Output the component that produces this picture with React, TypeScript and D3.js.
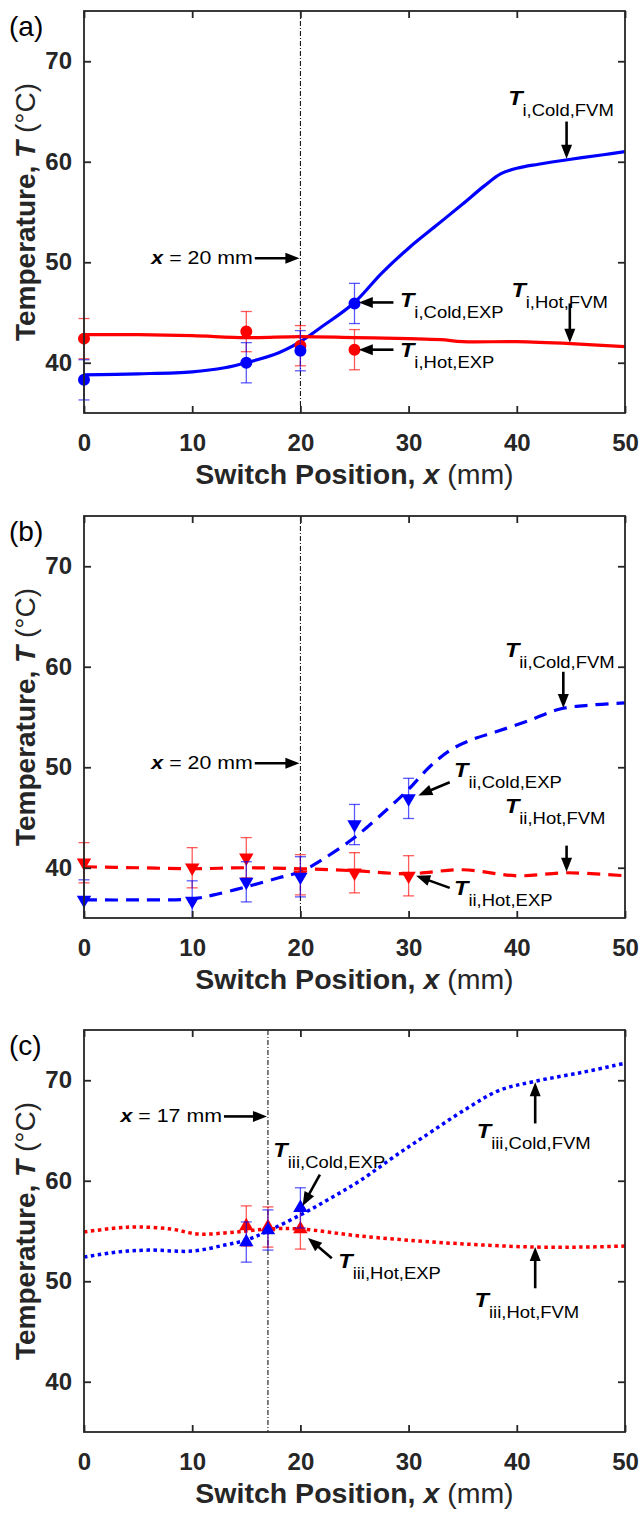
import React, { useEffect, useRef } from "react";
import * as d3 from "d3";

const xTicks = [0, 10, 20, 30, 40, 50];
const yTicks = [40, 50, 60, 70];
const panelNames = ["(a)", "(b)", "(c)"];

// (a) case i, circles, solid lines
const aExpX = [0, 15, 20, 25];
const aColdExp = [38.3, 40.0, 41.2, 45.9];
const aHotExp = [42.4, 43.1, 41.7, 41.3];
const aErr = [2, 2, 2, 2];
const aColdFvmX = [0, 5, 10, 13, 15, 18, 20, 22, 25, 27.5, 30, 32.5, 35, 37, 38.5, 40, 42, 45, 48, 50];
const aColdFvm = [38.8, 38.9, 39.1, 39.5, 40.0, 41.0, 42.1, 43.6, 46.0, 48.9, 51.4, 53.6, 55.8, 57.6, 58.8, 59.35, 59.75, 60.25, 60.7, 61.0];
const aHotFvmX = [0, 5, 10, 15, 20, 25, 30, 33, 35, 40, 45, 50];
const aHotFvm = [42.8, 42.8, 42.7, 42.5, 42.6, 42.5, 42.4, 42.3, 42.1, 42.1, 41.9, 41.6];

// (b) case ii, down triangles, dashed lines
const bExpX = [0, 10, 15, 20, 25, 30];
const bColdExp = [36.8, 36.7, 38.6, 39.1, 44.3, 46.9];
const bHotExp = [40.5, 40.0, 41.0, 39.3, 39.5, 39.2];
const bErr = [2, 2, 2, 2, 2, 2];
const bColdFvmX = [0, 5, 10, 12, 15, 18, 20, 22, 25, 28, 30, 32, 34, 36, 38, 41, 44, 47, 50];
const bColdFvm = [36.8, 36.8, 36.9, 37.3, 38.1, 39.0, 39.6, 40.8, 43.0, 45.8, 47.8, 50.1, 51.8, 52.8, 53.5, 54.6, 55.8, 56.2, 56.4];
const bHotFvmX = [0, 5, 10, 15, 20, 25, 30, 35, 40, 44.6, 50];
const bHotFvm = [40.1, 40.0, 39.9, 40.0, 39.9, 39.7, 39.4, 39.8, 39.2, 39.5, 39.2];

// (c) case iii, up triangles, dotted lines
const cExpX = [15, 17, 20];
const cColdExp = [53.9, 55.1, 57.3];
const cHotExp = [55.5, 55.4, 55.2];
const cErr = [2, 2, 2];
const cColdFvmX = [0, 3, 6, 10, 13, 15, 17, 20, 22.7, 25.5, 29.2, 31.3, 35.4, 38.4, 41.7, 46.1, 50];
const cColdFvm = [52.4, 52.9, 53.1, 53.0, 53.6, 54.1, 55.0, 56.6, 58.2, 60.0, 62.8, 64.3, 67.2, 69.0, 69.9, 70.8, 71.7];
const cHotFvmX = [0, 3, 5, 8, 10.5, 13, 15, 17, 20, 25.5, 32.3, 37, 41.7, 46, 50];
const cHotFvm = [54.9, 55.3, 55.4, 55.2, 54.7, 54.8, 55.0, 55.2, 55.2, 54.5, 53.9, 53.6, 53.4, 53.4, 53.5];

// switch positions marked with the vertical dash-dot line
const switchX = [20, 20, 17];

const zip = (xs: number[], ys: number[]) => xs.map((x, i) => [x, ys[i]] as [number, number]);

const panels = [
	{
		name: panelNames[0],
		marker: "circle",
		dash: null,
		expX: aExpX, cold: aColdExp, hot: aHotExp, err: aErr,
		coldFvm: zip(aColdFvmX, aColdFvm), hotFvm: zip(aHotFvmX, aHotFvm),
		sw: switchX[0],
		swText: { x: 15.6, y: 49.8, ay: 50.4 },
		// [sub, tx, ty, ax1, ay1, ax2, ay2] in data units
		notes: [
			["i,Cold,FVM", 39.2, 65.6, 44.6, 64.0, 44.6, 60.3],
			["i,Hot,FVM", 39.5, 46.5, 44.9, 45.9, 44.9, 42.0],
			["i,Cold,EXP", 29.2, 45.5, 28.6, 46.0, 25.4, 46.0],
			["i,Hot,EXP", 29.2, 40.6, 28.6, 41.3, 25.4, 41.3],
		],
	},
	{
		name: panelNames[1],
		marker: "down",
		dash: "13,8",
		expX: bExpX, cold: bColdExp, hot: bHotExp, err: bErr,
		coldFvm: zip(bColdFvmX, bColdFvm), hotFvm: zip(bHotFvmX, bHotFvm),
		sw: switchX[1],
		swText: { x: 15.6, y: 49.8, ay: 50.4 },
		notes: [
			["ii,Cold,FVM", 38.9, 61.0, 44.3, 59.5, 44.3, 55.9],
			["ii,Cold,EXP", 34.2, 49.0, 33.8, 48.5, 30.9, 47.2],
			["ii,Hot,FVM", 38.9, 45.4, 44.6, 42.2, 44.6, 39.6],
			["ii,Hot,EXP", 34.2, 37.3, 33.8, 38.0, 30.7, 39.2],
		],
	},
	{
		name: panelNames[2],
		marker: "up",
		dash: "3.5,3.5",
		expX: cExpX, cold: cColdExp, hot: cHotExp, err: cErr,
		coldFvm: zip(cColdFvmX, cColdFvm), hotFvm: zip(cHotFvmX, cHotFvm),
		sw: switchX[2],
		swText: { x: 12.75, y: 65.8, ay: 66.4 },
		notes: [
			["iii,Cold,EXP", 17.5, 62.4, 21.8, 60.6, 20.2, 57.5],
			["iii,Hot,EXP", 23.5, 51.3, 22.9, 52.3, 20.7, 54.3],
			["iii,Cold,FVM", 36.3, 64.3, 41.7, 65.7, 41.7, 69.8],
			["iii,Hot,FVM", 36.1, 47.4, 41.7, 49.3, 41.7, 53.4],
		],
	},
];

const W = 641;
const H = 1513;
const left = 84;
const plotW = 541;
const plotH = 402;
const tops = [11, 516, 1030];
const axisColor = "#262626";
const font = "'Liberation Sans', Arial, sans-serif";

function drawArrow(g, x1, y1, x2, y2) {
	const ang = Math.atan2(y2 - y1, x2 - x1);
	const len = 14;
	const hw = 5.5;
	const bx = x2 - len * Math.cos(ang);
	const by = y2 - len * Math.sin(ang);
	g.append("line")
		.attr("x1", x1)
		.attr("y1", y1)
		.attr("x2", bx + 2 * Math.cos(ang))
		.attr("y2", by + 2 * Math.sin(ang))
		.attr("stroke", "#000")
		.attr("stroke-width", 2.6);
	const px = -Math.sin(ang) * hw;
	const py = Math.cos(ang) * hw;
	g.append("path")
		.attr("d", `M${x2},${y2}L${bx + px},${by + py}L${bx - px},${by - py}Z`)
		.attr("fill", "#000");
}

function drawPanel(svg, p, top) {
	const x = d3.scaleLinear().domain([0, 50]).range([0, plotW]);
	const y = d3.scaleLinear().domain([35, 75]).range([plotH, 0]);

	const g = svg.append("g").attr("transform", `translate(${left},${top})`);

	const defs = g.append("defs");
	defs.append("clipPath")
		.attr("id", `clip${top}`)
		.append("rect")
		.attr("width", plotW)
		.attr("height", plotH);
	defs.append("clipPath")
		.attr("id", `clipv${top}`)
		.append("rect")
		.attr("x", -30)
		.attr("width", plotW + 60)
		.attr("height", plotH);

	const plot = g.append("g").attr("clip-path", `url(#clip${top})`);

	// switch position line
	plot.append("line")
		.attr("x1", x(p.sw))
		.attr("x2", x(p.sw))
		.attr("y1", 0)
		.attr("y2", plotH)
		.attr("stroke", "#000")
		.attr("stroke-width", 1)
		.attr("stroke-dasharray", "5,2,1,2");

	const line = d3
		.line()
		.x(d => x(d[0]))
		.y(d => y(d[1]))
		.curve(d3.curveCatmullRom.alpha(0.5));

	[
		[p.coldFvm, "#0000ff"],
		[p.hotFvm, "#ff0000"],
	].forEach(([data, color]) => {
		plot.append("path")
			.datum(data)
			.attr("fill", "none")
			.attr("stroke", color)
			.attr("stroke-width", p.dash === "3.5,3.5" ? 3.5 : 3.2)
			.attr("stroke-dasharray", p.dash)
			.attr("d", line);
	});

	const marks = g.append("g").attr("clip-path", `url(#clipv${top})`);
	const symType =
		p.marker === "circle" ? d3.symbolCircle : d3.symbolTriangle;
	const symSize = p.marker === "circle" ? 113 : 90;

	[
		[p.hot, "#ff0000"],
		[p.cold, "#0000ff"],
	].forEach(([vals, color]) => {
		const pts = p.expX.map((xv, i) => ({ x: xv, y: vals[i], e: p.err[i] }));
		const eb = marks.append("g").attr("stroke", color).attr("stroke-opacity", 0.65).attr("stroke-width", 1.3);
		pts.forEach(d => {
			const cx = x(d.x);
			eb.append("line").attr("x1", cx).attr("x2", cx).attr("y1", y(d.y - d.e)).attr("y2", y(d.y + d.e));
			eb.append("line").attr("x1", cx - 5.5).attr("x2", cx + 5.5).attr("y1", y(d.y - d.e)).attr("y2", y(d.y - d.e));
			eb.append("line").attr("x1", cx - 5.5).attr("x2", cx + 5.5).attr("y1", y(d.y + d.e)).attr("y2", y(d.y + d.e));
		});
		marks.selectAll(null)
			.data(pts)
			.enter()
			.append("path")
			.attr("d", d3.symbol().type(symType).size(symSize))
			.attr("fill", color)
			.attr("transform", d => `translate(${x(d.x)},${y(d.y)})${p.marker === "down" ? " rotate(180)" : ""}`);
	});

	// box + ticks
	g.append("rect")
		.attr("width", plotW)
		.attr("height", plotH)
		.attr("fill", "none")
		.attr("stroke", axisColor)
		.attr("stroke-width", 1.8);

	const styleAxis = sel => {
		sel.select(".domain").remove();
		sel.selectAll(".tick line").attr("stroke", axisColor).attr("stroke-width", 1.8);
		sel.selectAll(".tick text")
			.attr("fill", axisColor)
			.style("font-family", font)
			.style("font-weight", "bold")
			.style("font-size", "24px");
	};

	g.append("g")
		.attr("transform", `translate(0,${plotH})`)
		.call(d3.axisBottom(x).tickValues(xTicks).tickSize(-7).tickPadding(21))
		.call(styleAxis);
	g.append("g")
		.call(d3.axisTop(x).tickValues(xTicks).tickSize(-7).tickFormat(() => ""))
		.call(styleAxis);
	g.append("g")
		.call(d3.axisLeft(y).tickValues(yTicks).tickSize(-7).tickPadding(12))
		.call(styleAxis);
	g.append("g")
		.attr("transform", `translate(${plotW},0)`)
		.call(d3.axisRight(y).tickValues(yTicks).tickSize(-7).tickFormat(() => ""))
		.call(styleAxis);

	// axis titles
	const xt = g.append("text")
		.attr("x", plotW / 2)
		.attr("y", plotH + 71)
		.attr("text-anchor", "middle")
		.attr("fill", axisColor)
		.style("font-family", font)
		.style("font-size", "28.5px");
	xt.append("tspan").attr("font-weight", "bold").text("Switch Position, ");
	xt.append("tspan").attr("font-weight", "bold").attr("font-style", "italic").text("x");
	xt.append("tspan").text(" (mm)");

	const yt = g.append("text")
		.attr("transform", `translate(${-49},${plotH / 2}) rotate(-90)`)
		.attr("text-anchor", "middle")
		.attr("fill", axisColor)
		.style("font-family", font)
		.style("font-size", "28px");
	yt.append("tspan").attr("font-weight", "bold").text("Temperature, ");
	yt.append("tspan").attr("font-weight", "bold").attr("font-style", "italic").text("T");
	yt.append("tspan").text(" (\u00b0C)");

	// panel tag
	svg.append("text")
		.attr("x", 9)
		.attr("y", top + 25)
		.style("font-family", font)
		.style("font-size", "28px")
		.attr("fill", "#000")
		.text(p.name);

	// annotations
	const ann = g.append("g");
	const st = p.swText;
	const swg = ann.append("g").attr("transform", `translate(${x(st.x)},${y(st.y)}) scale(1.22,1)`);
	const swt = swg.append("text")
		.attr("text-anchor", "end")
		.style("font-family", font)
		.style("font-size", "17.5px")
		.attr("fill", "#000");
	swt.append("tspan").attr("font-weight", "bold").attr("font-style", "italic").text("x");
	swt.append("tspan").text(` = ${p.sw} mm`);
	drawArrow(ann, x(st.x) + 2, y(st.ay), x(p.sw) - 1, y(st.ay));

	p.notes.forEach(([sub, tx, ty, ax1, ay1, ax2, ay2]) => {
		const lg = ann.append("g").attr("transform", `translate(${x(tx)},${y(ty)}) scale(1.12,1)`);
		const t = lg.append("text").style("font-family", font).attr("fill", "#000");
		t.append("tspan").attr("font-weight", "bold").attr("font-style", "italic").style("font-size", "21px").text("T");
		t.append("tspan").attr("dy", 11).style("font-size", "16.5px").text(sub);
		drawArrow(ann, x(ax1), y(ay1), x(ax2), y(ay2));
	});
}

export default function App() {
	const ref = useRef(null);

	useEffect(() => {
		const svg = d3.select(ref.current);
		svg.selectAll("*").remove();
		panels.forEach((p, i) => drawPanel(svg, p, tops[i]));
	}, []);

	return (
		<svg
			ref={ref}
			width={W}
			height={H}
			style={{ position: "absolute", left: 0, top: 0, background: "#fff" }}
		/>
	);
}
